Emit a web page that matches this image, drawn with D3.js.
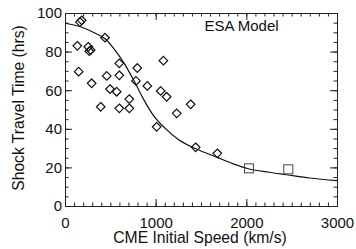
<!DOCTYPE html>
<html lang="en">
    <head>
        <meta charset="UTF-8">
        <title>ESA Model</title>
        <script src="https://d3js.org/d3.v7.min.js"></script>
    </head>
    <style>
        body { margin: 0; background: white; }
        svg { display: block; font-family: "Liberation Sans", Arial, sans-serif; }
        .axis path, .axis line { stroke: #222; stroke-width: 1; }
        .axis text { fill: #111; font-size: 15px; font-family: "Liberation Sans", Arial, sans-serif; }
    </style>
    <body>
        <svg width="356" height="249"></svg>
        <script>
            // observed events (diamonds)
            var speedObs = [165, 184, 136, 257, 283, 268, 441, 151, 294, 599, 460, 599, 496, 570, 394, 599, 709, 709, 797, 783, 908, 1055, 1121, 1085, 1232, 1011, 1386, 1441, 1680]
            var timeObs = [95.3, 96.2, 83, 82.5, 80.8, 80.2, 87.2, 69.6, 63.6, 73.9, 67.4, 67.7, 60.6, 59.2, 51.4, 50.6, 50.6, 55.4, 71.5, 64.8, 62.2, 59.6, 56.6, 75.3, 48.0, 41.0, 52.7, 30.4, 27.3]

            // square markers
            var speedSq = [2029, 2463]
            var timeSq = [19.5, 19.0]

            // model curve
            var speedModel = [0, 187, 334, 445, 555, 651, 754, 864, 974, 1100, 1250, 1450, 1673, 1857, 2022, 2250, 2445, 2700, 3000]
            var timeModel = [94.7, 92.6, 89.5, 86.5, 80.5, 74, 65.5, 55.5, 47, 40.5, 34.5, 29.5, 25.3, 21.8, 19.3, 17.5, 16.2, 14.5, 13.1]

            var xTicks = [0, 1000, 2000, 3000]
            var yTicks = [0, 20, 40, 60, 80, 100]
            var xMinor = d3.range(0, 3001, 100)
            var yMinor = d3.range(0, 101, 5)

            var mLeft = 65, mRight = 337, mTop = 13, mBottom = 206

            var x = d3.scaleLinear().domain([0, 3000]).range([mLeft, mRight]);
            var y = d3.scaleLinear().domain([0, 100]).range([mBottom, mTop]);

            var svg = d3.select("svg");

            // minor ticks
            svg.append("g").attr("class", "axis").attr("transform", "translate(0," + mBottom + ")")
                .call(d3.axisBottom(x).tickValues(xMinor).tickSize(-3.5).tickSizeOuter(0).tickFormat(""));
            svg.append("g").attr("class", "axis").attr("transform", "translate(0," + mTop + ")")
                .call(d3.axisTop(x).tickValues(xMinor).tickSize(-3.5).tickSizeOuter(0).tickFormat(""));
            svg.append("g").attr("class", "axis").attr("transform", "translate(" + mLeft + ",0)")
                .call(d3.axisLeft(y).tickValues(yMinor).tickSize(-3.5).tickSizeOuter(0).tickFormat(""));
            svg.append("g").attr("class", "axis").attr("transform", "translate(" + mRight + ",0)")
                .call(d3.axisRight(y).tickValues(yMinor).tickSize(-3.5).tickSizeOuter(0).tickFormat(""));

            // major ticks
            svg.append("g").attr("class", "axis").attr("transform", "translate(0," + mBottom + ")")
                .call(d3.axisBottom(x).tickValues(xTicks).tickSize(-7).tickSizeOuter(0).tickPadding(11).tickFormat(d3.format("d")));
            svg.append("g").attr("class", "axis").attr("transform", "translate(0," + mTop + ")")
                .call(d3.axisTop(x).tickValues(xTicks).tickSize(-7).tickSizeOuter(0).tickFormat(""));
            svg.append("g").attr("class", "axis").attr("transform", "translate(" + mLeft + ",0)")
                .call(d3.axisLeft(y).tickValues(yTicks).tickSize(-7).tickSizeOuter(0).tickPadding(3).tickFormat(d3.format("d")));
            svg.append("g").attr("class", "axis").attr("transform", "translate(" + mRight + ",0)")
                .call(d3.axisRight(y).tickValues(yTicks).tickSize(-7).tickSizeOuter(0).tickFormat(""));

            // model curve
            var line = d3.line()
                .x(function(d) { return x(d[0]); })
                .y(function(d) { return y(d[1]); })
                .curve(d3.curveMonotoneX);
            svg.append("path")
                .datum(d3.zip(speedModel, timeModel))
                .attr("d", line)
                .attr("fill", "none")
                .attr("stroke", "#111")
                .attr("stroke-width", 1.2);

            // diamonds
            var diamond = "M0,-4.3L4.3,0L0,4.3L-4.3,0Z"
            svg.append("g").selectAll("path")
                .data(d3.zip(speedObs, timeObs))
                .enter()
                .append("path")
                .attr("d", diamond)
                .attr("transform", function(d) { return "translate(" + x(d[0]) + "," + y(d[1]) + ")"; })
                .attr("fill", "none")
                .attr("stroke", "#111")
                .attr("stroke-width", 1.2);

            // squares
            svg.append("g").selectAll("rect")
                .data(d3.zip(speedSq, timeSq))
                .enter()
                .append("rect")
                .attr("x", function(d) { return x(d[0]) - 4.5; })
                .attr("y", function(d) { return y(d[1]) - 4.5; })
                .attr("width", 9)
                .attr("height", 9)
                .attr("fill", "none")
                .attr("stroke", "#444")
                .attr("stroke-width", 1);

            // labels
            svg.append("text")
                .attr("x", 241.5).attr("y", 30.7)
                .attr("text-anchor", "middle")
                .style("font-size", "15px").style("fill", "#111")
                .text("ESA Model");

            svg.append("text")
                .attr("x", 200).attr("y", 243)
                .attr("text-anchor", "middle")
                .style("font-size", "15.7px").style("fill", "#111")
                .text("CME Initial Speed (km/s)");

            svg.append("text")
                .attr("transform", "translate(24,108) rotate(-90)")
                .attr("text-anchor", "middle")
                .style("font-size", "15.7px").style("fill", "#111")
                .text("Shock Travel Time (hrs)");
        </script>
    </body>
</html>
